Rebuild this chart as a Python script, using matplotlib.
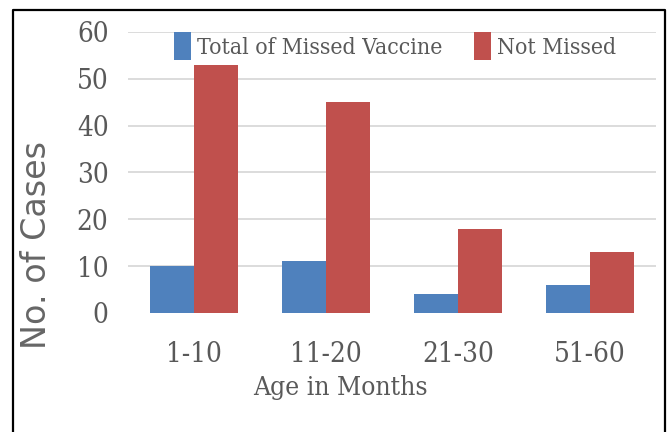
import numpy as np
import matplotlib
matplotlib.use("Agg")
import matplotlib.pyplot as plt
from matplotlib.lines import Line2D
from matplotlib.font_manager import FontProperties


age_groups = ["1-10", "11-20", "21-30", "51-60"]
missed = [10, 11, 4, 6]
not_missed = [53, 45, 18, 13]
y_ticks = [0, 10, 20, 30, 40, 50, 60]

blue = "#4F81BD"
red = "#C0504D"
text_grey = "#595959"

serif = dict(family="DejaVu Serif", stretch="condensed")


fig = plt.figure(figsize=(6.7, 4.32), dpi=100)
ax = fig.add_axes([0.191, 0.2755, 0.788, 0.6505])

x = np.arange(len(age_groups))
w = 1 / 3
ax.bar(x - w / 2, missed, width=w, color=blue, label="Total of Missed Vaccine")
ax.bar(x + w / 2, not_missed, width=w, color=red, label="Not Missed")

ax.set_xlim(-0.5, len(age_groups) - 0.5)
ax.set_ylim(0, 60)
ax.set_xticks(x)
ax.set_xticklabels(age_groups, fontsize=20, color=text_grey, **serif)
ax.set_yticks(y_ticks)
ax.set_yticklabels([str(v) for v in y_ticks], fontsize=20, color=text_grey, **serif)
ax.tick_params(axis="x", length=0, pad=20)
ax.tick_params(axis="y", length=0, pad=14)

# grid lines (no line at zero in the original)
for v in y_ticks[1:]:
    ax.axhline(v, color="#D9D9D9", lw=1.3, zorder=0)

for s in ax.spines.values():
    s.set_visible(False)

ax.set_xlabel("Age in Months", fontsize=19, color=text_grey, **serif)
ax.xaxis.label.set_va("top")
ax.xaxis.set_label_coords(0.403, -0.22)

ax.set_ylabel("No. of Cases", fontsize=24, color="#666666", family="DejaVu Sans")
ax.yaxis.label.set_va("center")
ax.yaxis.set_label_coords(-0.174, 0.242)

leg = ax.legend(ncol=2, loc="center", bbox_to_anchor=(0.506, 0.95), frameon=False,
                prop=FontProperties(size=16.5, **serif), handlelength=0.75, handleheight=1.5,
                handletextpad=0.25, columnspacing=1.4, borderpad=0)
for t in leg.get_texts():
    t.set_color(text_grey)

# black frame round the chart, open at the bottom
fig.add_artist(Line2D([0.0194, 0.0194, 0.9925, 0.9925], [0.0, 0.977, 0.977, 0.0],
                      transform=fig.transFigure, color="black", lw=1.6))

fig.savefig("out.png", dpi=100)
